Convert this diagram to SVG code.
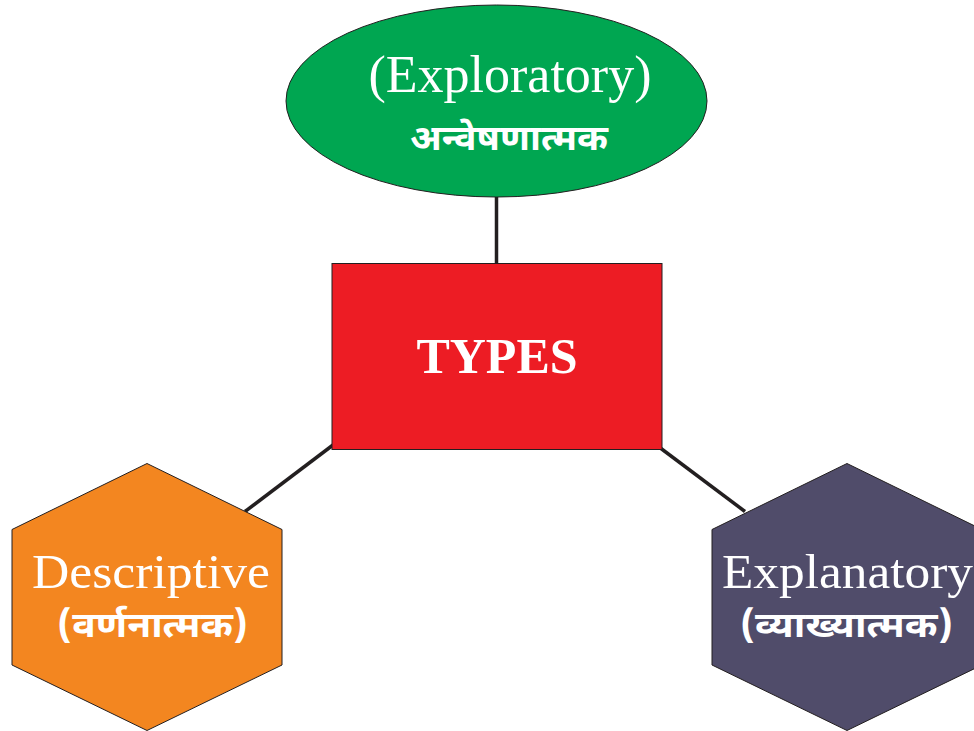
<svg xmlns="http://www.w3.org/2000/svg" width="974" height="731" viewBox="0 0 974 731">
<style>
.shape{stroke:#231F20;stroke-width:1}
.conn{stroke:#231F20;stroke-width:3.5;fill:none}
.en{font-family:"Liberation Serif","Times New Roman",serif;fill:#fff;text-anchor:middle}
.hi{font-family:"Noto Sans Devanagari","Lohit Devanagari","Mangal","Noto Sans",sans-serif;fill:#fff;text-anchor:middle;font-weight:bold}
</style>
<rect width="974" height="731" fill="#fff"/>
<g id="connectors">
<line class="conn" x1="496.5" y1="187" x2="496.5" y2="264"/>
<line class="conn" x1="333" y1="445" x2="245" y2="511.5"/>
<line class="conn" x1="655" y1="444" x2="745" y2="511.5"/>
</g>
<g id="exploratory">
<ellipse class="shape" cx="496.5" cy="101" rx="210.5" ry="96" fill="#00A651"/>
<text class="en" x="510" y="92" font-size="52">(Exploratory)</text>
<text class="hi" x="509" y="150" font-size="35" textLength="198" lengthAdjust="spacingAndGlyphs">अन्वेषणात्मक</text>
</g>
<g id="types">
<rect class="shape" x="332" y="263.5" width="330" height="186" fill="#ED1C24"/>
<text class="en" x="497" y="373" font-size="50" font-weight="bold">TYPES</text>
</g>
<g id="descriptive">
<polygon class="shape" points="147,463.5 282,529.5 282,665 147,730.5 12,665 12,529.5" fill="#F38620"/>
<text class="en" x="151" y="588" font-size="49" textLength="238" lengthAdjust="spacingAndGlyphs">Descriptive</text>
<text class="hi" x="152.5" y="637" font-size="35" textLength="191" lengthAdjust="spacingAndGlyphs">(वर्णनात्मक)</text>
</g>
<g id="explanatory">
<polygon class="shape" points="847,463.5 982,529.5 982,665 847,730.5 712,665 712,529.5" fill="#504C6A"/>
<text class="en" x="847.5" y="588" font-size="49" textLength="251" lengthAdjust="spacingAndGlyphs">Explanatory</text>
<text class="hi" x="846.5" y="637" font-size="35" textLength="213" lengthAdjust="spacingAndGlyphs">(व्याख्यात्मक)</text>
</g>
</svg>
